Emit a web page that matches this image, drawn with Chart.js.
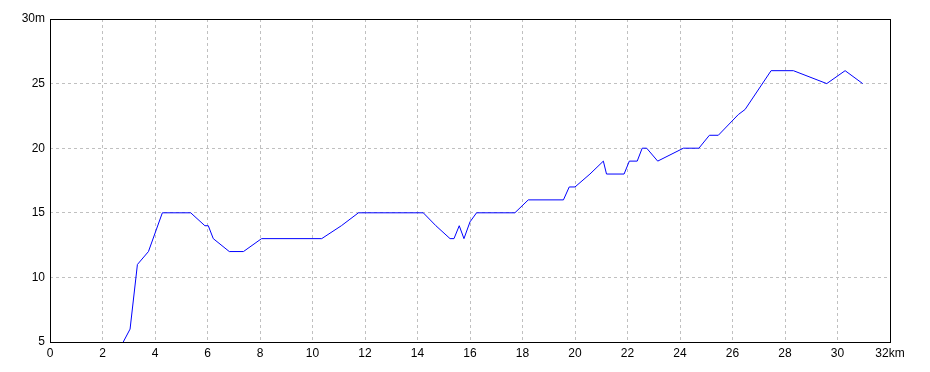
<!DOCTYPE html>
<html>
<head>
<meta charset="utf-8">
<script src="https://cdn.jsdelivr.net/npm/chart.js@4"></script>
<style>
html,body{margin:0;padding:0;background:#fff;}
#wrap{width:930px;height:372px;}
</style>
</head>
<body>
<div id="wrap"><canvas id="c" width="930" height="372"></canvas></div>
<script>
const distanceKm = [2.79, 3.05, 3.33, 3.75, 4.28, 5.36, 5.9, 6.03, 6.22, 6.83, 7.37, 8.06, 10.35, 11.1, 11.75, 14.22, 14.7, 15.24, 15.39, 15.59, 15.77, 16.0, 16.25, 17.71, 18.22, 19.56, 19.78, 20.0, 20.57, 21.08, 21.2, 21.87, 22.07, 22.37, 22.56, 22.73, 23.15, 24.13, 24.72, 25.12, 25.46, 26.22, 26.48, 27.47, 28.32, 29.59, 30.29, 30.96];
const elevationM = [5, 6, 11, 12, 15, 15, 14, 14, 13, 12, 12, 13, 13, 14, 15, 15, 14, 13, 13, 14, 13, 14.3, 15, 15, 16, 16, 17, 17, 18, 19, 18, 18, 19, 19, 20, 20, 19, 20, 20, 21, 21, 22.6, 23, 26, 26, 25, 26, 25];
const xTicks = [0,2,4,6,8,10,12,14,16,18,20,22,24,26,28,30,32];
const yTicks = [5,10,15,20,25,30];

const points = distanceKm.map((d,i)=>({x:d,y:elevationM[i]}));

const borderPlugin = {
  id:'frame',
  afterDraw(chart){
    const a = chart.chartArea, ctx = chart.ctx;
    ctx.save();
    ctx.strokeStyle = '#000';
    ctx.lineWidth = 1;
    ctx.strokeRect(Math.round(a.left)+0.5, Math.round(a.top)+0.5, Math.round(a.right-a.left), Math.round(a.bottom-a.top));
    ctx.restore();
  }
};

new Chart(document.getElementById('c'), {
  type:'line',
  data:{datasets:[{data:points, borderColor:'#0000ff', borderWidth:1, pointRadius:0, tension:0, fill:false}]},
  options:{
    responsive:false,
    animation:false,
    events:[],
    layout:{padding:{top:19,right:40,left:0,bottom:0}},
    plugins:{legend:{display:false},tooltip:{enabled:false}},
    scales:{
      x:{
        type:'linear', min:0, max:32,
        afterBuildTicks(s){ s.ticks = xTicks.map(v=>({value:v})); },
        afterFit(s){ s.height = 30; },
        grid:{color:'#c0c0c0', lineWidth:1, drawTicks:false},
        border:{display:false, dash:[3,3]},
        ticks:{padding:4, color:'#000', font:{family:'Liberation Sans', size:12}, maxRotation:0, autoSkip:false,
          callback:(v)=> v===32 ? '32km' : String(v)}
      },
      y:{
        type:'linear', min:5, max:30,
        afterBuildTicks(s){ s.ticks = yTicks.map(v=>({value:v})); },
        afterFit(s){ s.width = 50; },
        grid:{color:'#c0c0c0', lineWidth:1, drawTicks:false},
        border:{display:false, dash:[3,3]},
        ticks:{padding:5, color:'#000', font:{family:'Liberation Sans', size:12}, autoSkip:false,
          callback:(v)=> v===30 ? '30m' : String(v)}
      }
    }
  },
  plugins:[borderPlugin]
});
</script>
</body>
</html>
